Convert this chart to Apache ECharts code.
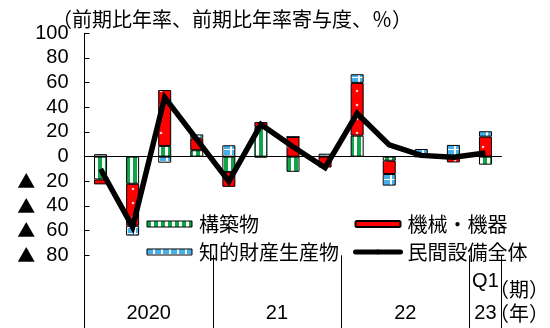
<!DOCTYPE html>
<html><head><meta charset="utf-8">
<script src="https://cdn.jsdelivr.net/npm/echarts@6/dist/echarts.min.js"></script>
<style>html,body{margin:0;padding:0;background:#fff}#c{width:550px;height:328px}</style>
</head><body><div id="c"></div>
<script>
// ---- data ----
const quarters = ['2020Q1','2020Q2','2020Q3','2020Q4','2021Q1','2021Q2','2021Q3','2021Q4','2022Q1','2022Q2','2022Q3','2022Q4','2023Q1'];
const quarterTickLabels = ['','','','','','','','','','','','','Q1'];
const yearLabels = ['2020','21','22','23'];
const yearGroupSizes = [4,4,4,1];
const seriesNames = ['構築物','機械・機器','知的財産生産物','民間設備全体'];
const construction = [-18.5,-22,8.7,5.2,-12.4,24,-12.3,0,17,-3.3,0,0,-6.5];
const machinery   = [-4,-34,45.3,9.6,-12.1,4,16,-8.8,42.8,-10.8,0,-4.7,16.2];
const ipProducts  = [2,-8,-4.9,3.2,9.2,-0.6,0,2.4,7,-9.4,6.2,9.5,4.4];
const totalCapex  = [-10,-57,48,14,-20,26,8,-9,35,9.5,1,-0.5,3];
const yMin = -80, yMax = 100, yStep = 20;
const titleText = '（前期比年率、前期比年率寄与度、％）';
const quarterUnit = '（期）';
const yearUnit = '（年）';

// ---- derived ----
const yearCenters = [];
{ let acc = 0; yearGroupSizes.forEach(s => { yearCenters.push(acc + s / 2); acc += s; }); }
const totalCats = yearGroupSizes.reduce((a, b) => a + b, 0);

function pattern(kind) {
  const c = document.createElement('canvas');
  let ctx;
  if (kind === 'green') {
    c.width = 7; c.height = 8; ctx = c.getContext('2d');
    ctx.fillStyle = '#fff'; ctx.fillRect(0, 0, 7, 8);
    ctx.fillStyle = '#10a548'; ctx.fillRect(0, 0, 4, 8);
  } else if (kind === 'red') {
    c.width = 14; c.height = 14; ctx = c.getContext('2d');
    ctx.fillStyle = '#ff0000'; ctx.fillRect(0, 0, 14, 14);
    ctx.fillStyle = '#ffd0d0'; ctx.beginPath(); ctx.arc(7, 7, 1.3, 0, Math.PI * 2); ctx.fill();
  } else {
    c.width = 8; c.height = 6; ctx = c.getContext('2d');
    ctx.fillStyle = '#fff'; ctx.fillRect(0, 0, 8, 6);
    ctx.fillStyle = '#45b1ea'; ctx.fillRect(0, 0, 6, 5);
  }
  return { image: c, repeat: 'repeat' };
}

const chart = echarts.init(document.getElementById('c'), null, { renderer: 'canvas' });
const jp = 'Noto Sans CJK JP';
const num = 'Liberation Sans';
const barCommon = { type: 'bar', stack: 'all', barWidth: 13, xAxisIndex: 0, yAxisIndex: 0 };
const border = { borderColor: '#000', borderWidth: 1 };

chart.setOption({
  animation: false,
  backgroundColor: '#fff',
  title: [
    { text: titleText, left: 52, top: 9, padding: 0, textStyle: { fontSize: 20, fontWeight: 'normal', fontFamily: jp, color: '#000' } },
    { text: quarterUnit, left: 489, top: 279, padding: 0, textStyle: { fontSize: 20, fontWeight: 'normal', fontFamily: jp, color: '#000' } },
    { text: yearUnit, left: 489, top: 303, padding: 0, textStyle: { fontSize: 20, fontWeight: 'normal', fontFamily: jp, color: '#000' } }
  ],
  legend: [
    { data: [seriesNames[0], seriesNames[2]], orient: 'vertical', left: 146.5, top: 214, padding: 0, itemGap: 8,
      itemWidth: 45, itemHeight: 6, icon: 'rect', itemStyle: border,
      textStyle: { fontSize: 20, fontFamily: jp, color: '#000', padding: [0, 0, 0, 2] } },
    { data: [seriesNames[1], { name: seriesNames[3], lineStyle: { width: 5, cap: 'round' } }], orient: 'vertical', left: 353, top: 214, padding: 0, itemGap: 8,
      itemWidth: 45, itemHeight: 6,
      textStyle: { fontSize: 20, fontFamily: jp, color: '#000', padding: [0, 0, 0, 2] } }
  ],
  grid: [
    { left: 84.5, width: 417, top: 33.3, height: 222 },
    { left: 84.5, width: 417, top: 255.3, height: 72.7 }
  ],
  xAxis: [
    { gridIndex: 0, type: 'category', data: quarters,
      axisLine: { onZero: true, lineStyle: { color: '#000', width: 1 } },
      axisTick: { show: false }, axisLabel: { show: false }, splitLine: { show: false } },
    { gridIndex: 1, type: 'category', data: quarterTickLabels, position: 'bottom',
      axisLine: { show: false }, axisTick: { show: false }, splitLine: { show: false },
      axisLabel: { inside: true, margin: 37, interval: 0, fontSize: 20, fontFamily: num, color: '#000' } },
    { gridIndex: 1, type: 'value', min: 0, max: totalCats, interval: 0.5, position: 'bottom',
      axisLine: { show: false }, axisTick: { show: false }, splitLine: { show: false },
      axisLabel: { inside: true, margin: 5, fontSize: 20, fontFamily: num, color: '#000', showMinLabel: true, showMaxLabel: true,
        formatter: v => { const i = yearCenters.findIndex(c => Math.abs(c - v) < 1e-6); return i >= 0 ? yearLabels[i] : ''; } } },
    { gridIndex: 1, type: 'value', min: 0, max: totalCats, interval: 4, position: 'bottom',
      axisLine: { show: false }, axisTick: { show: false }, axisLabel: { show: false },
      splitLine: { show: true, lineStyle: { color: '#000', width: 1 } } }
  ],
  yAxis: [
    { gridIndex: 0, type: 'value', min: yMin, max: yMax, interval: yStep,
      axisLine: { show: true, lineStyle: { color: '#000', width: 1 } },
      axisTick: { show: true, inside: true, length: 5, lineStyle: { color: '#000' } },
      splitLine: { show: false },
      axisLabel: { margin: 16, fontSize: 20, fontFamily: num, color: '#000',
        formatter: v => v < 0 ? '{t|▲}  ' + (-v) : String(v),
        rich: { t: { fontFamily: jp, fontSize: 18, color: '#000' } } } },
    { gridIndex: 1, type: 'value', min: 0, max: 1,
      axisLine: { show: true, lineStyle: { color: '#000', width: 1 } },
      axisTick: { show: false }, axisLabel: { show: false }, splitLine: { show: false } }
  ],
  series: [
    Object.assign({ name: seriesNames[0], data: construction, itemStyle: Object.assign({ color: pattern('green') }, border) }, barCommon),
    Object.assign({ name: seriesNames[1], data: machinery, itemStyle: Object.assign({ color: pattern('red') }, border) }, barCommon),
    Object.assign({ name: seriesNames[2], data: ipProducts, itemStyle: Object.assign({ color: pattern('blue') }, border) }, barCommon),
    { name: seriesNames[3], type: 'line', data: totalCapex, xAxisIndex: 0, yAxisIndex: 0, z: 5,
      symbol: 'none', color: '#000', lineStyle: { color: '#000', width: 5.5, join: 'miter' } }
  ]
});
</script></body></html>
